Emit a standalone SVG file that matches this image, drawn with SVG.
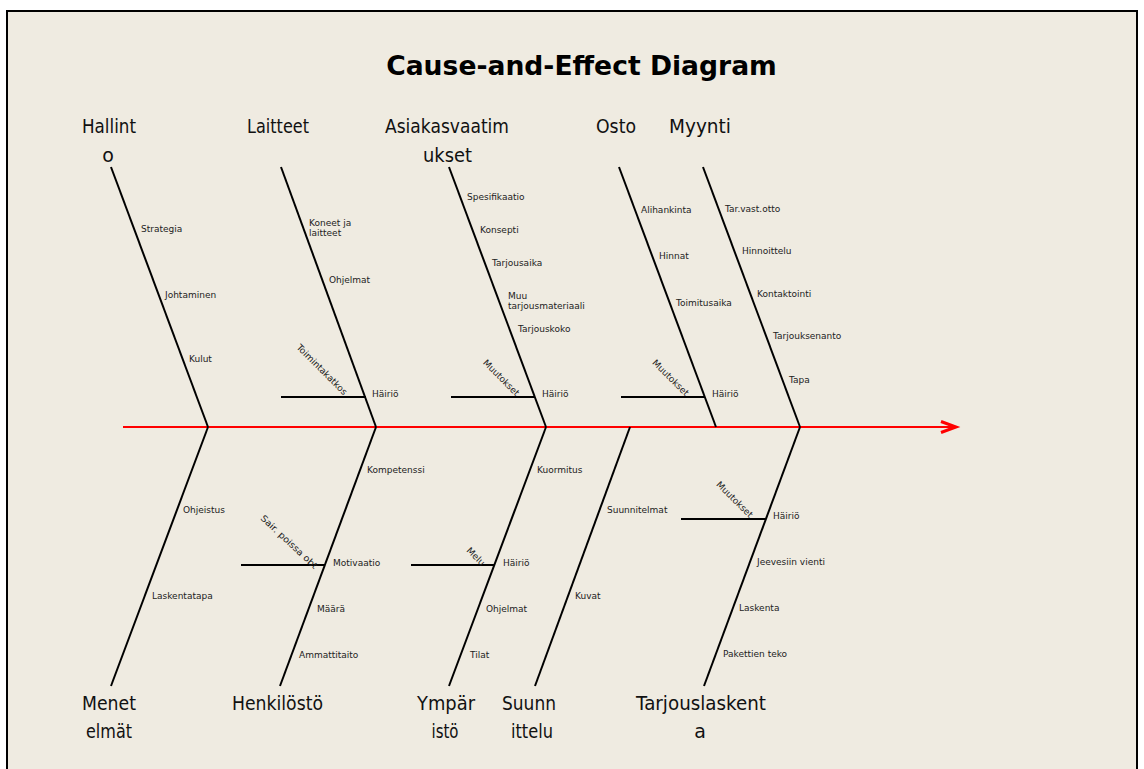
<svg xmlns="http://www.w3.org/2000/svg" width="1144" height="769" viewBox="0 0 1144 769">
<style>
.bone{stroke:#000;stroke-width:2;fill:none}
.spine{stroke:#f00;stroke-width:2;fill:none}
.cat{font-family:"DejaVu Sans",Verdana,sans-serif;font-size:19px;fill:#111;text-anchor:middle}
.sub{font-family:"DejaVu Sans",Verdana,sans-serif;font-size:9px;fill:#222}
.title{font-family:"DejaVu Sans",Verdana,sans-serif;font-size:26.6px;font-weight:bold;fill:#000;text-anchor:middle}
</style>
<rect x="0" y="0" width="1144" height="769" fill="#fff"/>
<rect x="7" y="11" width="1130" height="800" fill="#EFEBE1" stroke="#000" stroke-width="2"/>
<text class="title" x="581.5" y="75">Cause-and-Effect Diagram</text>
<g id="connectors">
<line class="spine" x1="123" y1="427" x2="955" y2="427"/>
<path d="M941,421.5 L956,427 L941,432.5" stroke="#f00" stroke-width="3" fill="none" stroke-linejoin="miter"/>
<line class="bone" x1="111" y1="167" x2="208" y2="427"/>
<line class="bone" x1="281" y1="167" x2="376" y2="427"/>
<line class="bone" x1="449" y1="167" x2="546" y2="427"/>
<line class="bone" x1="619" y1="167" x2="716" y2="427"/>
<line class="bone" x1="703" y1="167" x2="800" y2="427"/>
<line class="bone" x1="208" y1="427" x2="111" y2="686"/>
<line class="bone" x1="376" y1="427" x2="280" y2="686"/>
<line class="bone" x1="546" y1="427" x2="449" y2="686"/>
<line class="bone" x1="630" y1="427" x2="535" y2="686"/>
<line class="bone" x1="800" y1="427" x2="704" y2="686"/>
<line class="bone" x1="281" y1="397" x2="366" y2="397"/>
<line class="bone" x1="451" y1="397" x2="535" y2="397"/>
<line class="bone" x1="621" y1="397" x2="705" y2="397"/>
<line class="bone" x1="241" y1="565" x2="325" y2="565"/>
<line class="bone" x1="411" y1="565" x2="495" y2="565"/>
<line class="bone" x1="681" y1="519" x2="766" y2="519"/>
</g>
<g id="hallinto">
<text class="cat" x="109" y="133" textLength="54" lengthAdjust="spacingAndGlyphs">Hallint</text>
<text class="cat" x="108" y="162">o</text>
<text class="sub" x="141" y="232">Strategia</text>
<text class="sub" x="165" y="298">Johtaminen</text>
<text class="sub" x="189" y="362">Kulut</text>
</g>
<g id="laitteet">
<text class="cat" x="278" y="133" textLength="62" lengthAdjust="spacingAndGlyphs">Laitteet</text>
<text class="sub" x="309" y="226">Koneet ja</text>
<text class="sub" x="309" y="235.5">laitteet</text>
<text class="sub" x="329" y="283">Ohjelmat</text>
<text class="sub" transform="translate(296,348) rotate(45)">Toimintakatkos</text>
<text class="sub" x="372" y="397">Häiriö</text>
</g>
<g id="asiakasvaatimukset">
<text class="cat" x="447" y="133" textLength="124" lengthAdjust="spacingAndGlyphs">Asiakasvaatim</text>
<text class="cat" x="447.5" y="162" textLength="49" lengthAdjust="spacingAndGlyphs">ukset</text>
<text class="sub" x="467" y="200">Spesifikaatio</text>
<text class="sub" x="480" y="233">Konsepti</text>
<text class="sub" x="492" y="266">Tarjousaika</text>
<text class="sub" x="508" y="299">Muu</text>
<text class="sub" x="508" y="309">tarjousmateriaali</text>
<text class="sub" x="518" y="332">Tarjouskoko</text>
<text class="sub" transform="translate(482.4,363.2) rotate(45)">Muutokset</text>
<text class="sub" x="542" y="397">Häiriö</text>
</g>
<g id="osto">
<text class="cat" x="616" y="133" textLength="40" lengthAdjust="spacingAndGlyphs">Osto</text>
<text class="sub" x="641" y="213">Alihankinta</text>
<text class="sub" x="659" y="259">Hinnat</text>
<text class="sub" x="676" y="306">Toimitusaika</text>
<text class="sub" transform="translate(651.8,363.2) rotate(45)">Muutokset</text>
<text class="sub" x="712" y="397">Häiriö</text>
</g>
<g id="myynti">
<text class="cat" x="700" y="133" textLength="62" lengthAdjust="spacingAndGlyphs">Myynti</text>
<text class="sub" x="725" y="212">Tar.vast.otto</text>
<text class="sub" x="742" y="254">Hinnoittelu</text>
<text class="sub" x="757" y="297">Kontaktointi</text>
<text class="sub" x="773" y="339">Tarjouksenanto</text>
<text class="sub" x="789" y="383">Tapa</text>
</g>
<g id="menetelmat">
<text class="cat" x="109" y="710" textLength="54" lengthAdjust="spacingAndGlyphs">Menet</text>
<text class="cat" x="109" y="738" textLength="46" lengthAdjust="spacingAndGlyphs">elmät</text>
<text class="sub" x="183" y="513">Ohjeistus</text>
<text class="sub" x="152" y="599">Laskentatapa</text>
</g>
<g id="henkilosto">
<text class="cat" x="277.5" y="710" textLength="91" lengthAdjust="spacingAndGlyphs">Henkilöstö</text>
<text class="sub" x="367" y="473">Kompetenssi</text>
<text class="sub" transform="translate(260,519) rotate(43)" textLength="74" lengthAdjust="spacingAndGlyphs">Sair. poissa obt</text>
<text class="sub" x="333" y="566">Motivaatio</text>
<text class="sub" x="317" y="612">Määrä</text>
<text class="sub" x="299" y="658">Ammattitaito</text>
</g>
<g id="ymparisto">
<text class="cat" x="446" y="710" textLength="58" lengthAdjust="spacingAndGlyphs">Ympär</text>
<text class="cat" x="445" y="738" textLength="27" lengthAdjust="spacingAndGlyphs">istö</text>
<text class="sub" x="537" y="473">Kuormitus</text>
<text class="sub" transform="translate(466,551) rotate(45)">Melu</text>
<text class="sub" x="503" y="566">Häiriö</text>
<text class="sub" x="486" y="612">Ohjelmat</text>
<text class="sub" x="470" y="658">Tilat</text>
</g>
<g id="suunnittelu">
<text class="cat" x="529" y="710" textLength="54" lengthAdjust="spacingAndGlyphs">Suunn</text>
<text class="cat" x="532" y="738" textLength="42" lengthAdjust="spacingAndGlyphs">ittelu</text>
<text class="sub" x="607" y="513">Suunnitelmat</text>
<text class="sub" x="575" y="599">Kuvat</text>
</g>
<g id="tarjouslaskenta">
<text class="cat" x="701" y="710" textLength="130" lengthAdjust="spacingAndGlyphs">Tarjouslaskent</text>
<text class="cat" x="700" y="738">a</text>
<text class="sub" transform="translate(715.8,484.9) rotate(45)">Muutokset</text>
<text class="sub" x="773" y="519">Häiriö</text>
<text class="sub" x="757" y="565">Jeevesiin vienti</text>
<text class="sub" x="739" y="611">Laskenta</text>
<text class="sub" x="723" y="657">Pakettien teko</text>
</g>
</svg>
